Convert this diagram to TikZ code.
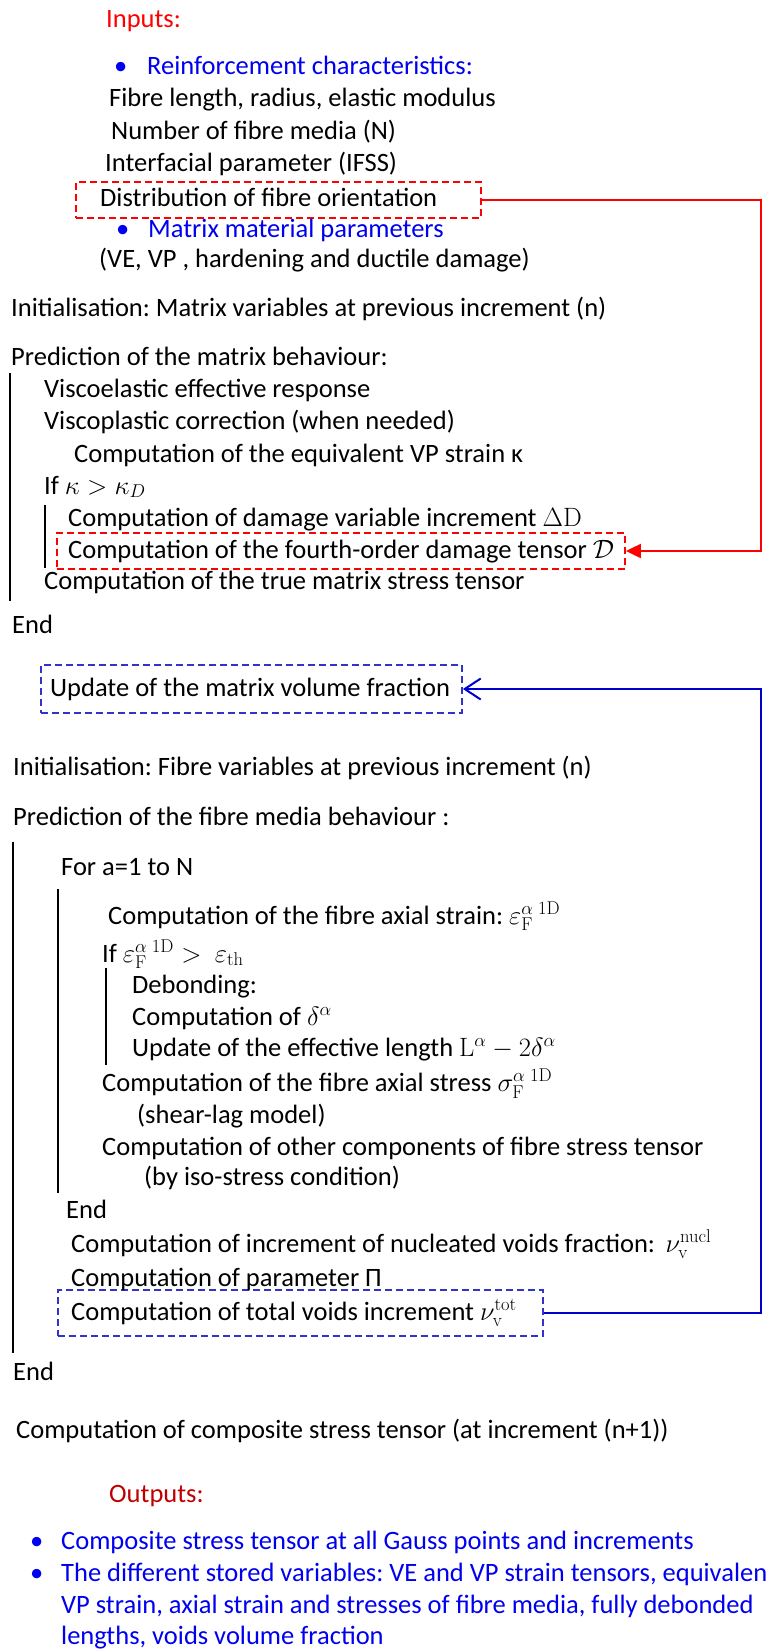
\RequirePackage{fix-cm}
\documentclass[tikz,border=0pt]{standalone}
\usepackage[no-math]{fontspec}
\setmainfont{Carlito}
\frenchspacing
\usetikzlibrary{arrows.meta}
\definecolor{inred}{RGB}{255,0,0}
\definecolor{outred}{RGB}{192,0,0}
\definecolor{txtblue}{RGB}{0,0,240}
\definecolor{boxblue}{RGB}{51,51,204}
\definecolor{lineblue}{RGB}{0,0,204}
\newcommand{\msize}{\fontsize{26.5}{32}\selectfont}
\begin{document}
\begin{tikzpicture}[x=1pt,y=-1pt,
  txt/.style={anchor=base west, inner sep=0pt, font=\msize\frenchspacing},
  bluetxt/.style={txt, text=txtblue},
  redbox/.style={draw=inred, dash pattern=on 7pt off 4pt, line width=1.8pt, inner sep=0pt},
  bluebox/.style={draw=boxblue, dash pattern=on 7pt off 4pt, line width=1.8pt, inner sep=0pt},
  bar/.style={line width=2.2pt, black},
  redcon/.style={draw=inred, line width=2pt, -{Triangle[length=15pt,width=14pt]}},
  bluecon/.style={draw=lineblue, line width=2pt, -{Straight Barb[length=16pt,width=21pt,line width=2pt]}}
]
\useasboundingbox (0,0) rectangle (772,1650);
\fill[white] (0,0) rectangle (772,1650);

% dashed boxes
\node[redbox, minimum width=405pt, minimum height=36pt] (rb1) at (278.5,200) {};
\node[redbox, minimum width=568pt, minimum height=36pt] (rb2) at (341,551) {};
\node[bluebox, minimum width=421pt, minimum height=48pt] (bb1) at (251.5,689) {};
\node[bluebox, minimum width=485pt, minimum height=46pt] (bb2) at (300.5,1313) {};

% inputs
\node[txt, text=inred] (inp) at (106,27) {Inputs:};
\node[bluetxt] (bu1) at (114,74) {•};
\node[bluetxt] (rein) at (147,74) {Reinforcement characteristics:};
\node[txt] (fl) at (109,106) {Fibre length, radius, elastic modulus};
\node[txt] (nf) at (111,139) {Number of fibre media (N)};
\node[txt] (ifp) at (105,171) {Interfacial parameter (IFSS)};
\node[txt] (dist) at (100,206.5) {Distribution of fibre orientation};
\node[bluetxt] (bu2) at (116,237.5) {•};
\node[bluetxt] (mat) at (148,237.5) {Matrix material parameters};
\node[txt] (ve) at (99,267.5) {(VE, VP , hardening and ductile damage)};

% matrix
\node[txt] (initm) at (11,316.7) {Initialisation: Matrix variables at previous increment (n)};
\node[txt] (predm) at (11,365) {Prediction of the matrix behaviour:};
\node[txt] (visce) at (44,397) {Viscoelastic effective response};
\node[txt] (viscp) at (44,429) {Viscoplastic correction (when needed)};
\node[txt] (eqvp) at (74,462) {Computation of the equivalent VP strain κ};
\node[txt] (ifk) at (44,494) {If $\kappa > \kappa_D$};
\node[txt] (dd) at (68,526) {Computation of damage variable increment $\Delta\mathrm{D}$};
\node[txt] (dt) at (68,558) {Computation of the fourth-order damage tensor $\mathcal{D}$};
\node[txt] (tms) at (44,589.3) {Computation of the true matrix stress tensor};
\node[txt] (end1) at (12,633.3) {End};
\coordinate (m1t) at (10,373);
\coordinate (m1b) at (10,601);
\coordinate (m2t) at (45,505);
\coordinate (m2b) at (45,568);
\draw[bar] (m1t) -- (m1b);
\draw[bar] (m2t) -- (m2b);

% fibre
\node[txt] (upd) at (50,696.7) {Update of the matrix volume fraction};
\node[txt] (initf) at (13,775.8) {Initialisation: Fibre variables at previous increment (n)};
\node[txt] (predf) at (13,825.9) {Prediction of the fibre media behaviour :};
\node[txt] (fora) at (61,875) {For a=1 to N};
\node[txt] (axs) at (108,924) {Computation of the fibre axial strain: $\varepsilon_{\mathrm{F}}^{\alpha\;1\mathrm{D}}$};
\node[txt] (ife) at (102,962) {If $\varepsilon_{\mathrm{F}}^{\alpha\;1\mathrm{D}} >\ \varepsilon_{\mathrm{th}}$};
\node[txt] (deb) at (132,993.3) {Debonding:};
\node[txt] (cdel) at (132,1025.3) {Computation of $\delta^{\alpha}$};
\node[txt] (uel) at (132,1056.4) {Update of the effective length $\mathrm{L}^{\alpha}-2\delta^{\alpha}$};
\node[txt] (axst) at (102,1091.5) {Computation of the fibre axial stress $\sigma_{\mathrm{F}}^{\alpha\;1\mathrm{D}}$};
\node[txt] (shl) at (137,1123.6) {(shear-lag model)};
\node[txt] (oth) at (102,1155.6) {Computation of other components of fibre stress tensor};
\node[txt] (iso) at (144,1185.7) {(by iso-stress condition)};
\node[txt] (end2) at (66,1218.8) {End};
\node[txt] (nucl) at (71,1252) {Computation of increment of nucleated voids fraction:\, $\nu_{\mathrm{v}}^{\mathrm{nucl}}$};
\node[txt] (pip) at (71,1286) {Computation of parameter Π};
\node[txt] (tot) at (71,1320) {Computation of total voids increment $\nu_{\mathrm{v}}^{\mathrm{tot}}$};
\node[txt] (end3) at (13,1380.7) {End};
\coordinate (f1t) at (13,842);
\coordinate (f1b) at (13,1353);
\coordinate (f2t) at (58,889);
\coordinate (f2b) at (58,1193);
\coordinate (f3t) at (106,968);
\coordinate (f3b) at (106,1065);
\draw[bar] (f1t) -- (f1b);
\draw[bar] (f2t) -- (f2b);
\draw[bar] (f3t) -- (f3b);

% composite / outputs
\node[txt] (comp) at (16,1438.3) {Computation of composite stress tensor (at increment (n+1))};
\node[txt, text=outred] (outp) at (109,1502) {Outputs:};
\node[bluetxt] (bu3) at (30,1549.5) {•};
\node[bluetxt] (o1) at (61,1549.5) {Composite stress tensor at all Gauss points and increments};
\node[bluetxt] (bu4) at (30,1581.5) {•};
\node[bluetxt] (o2) at (61,1581.5) {The different stored variables: VE and VP strain tensors, equivalen};
\node[bluetxt] (o3) at (61,1613) {VP strain, axial strain and stresses of fibre media, fully debonded};
\node[bluetxt] (o4) at (61,1644.5) {lengths, voids volume fraction};

% connectors
\coordinate (rc1) at (761,200);
\coordinate (rc2) at (761,551);
\draw[redcon] (rb1.east) -- (rc1) -- (rc2) -- (rb2.east);
\coordinate (bc1) at (761,1313);
\coordinate (bc2) at (761,689);
\draw[bluecon] (bb2.east) -- (bc1) -- (bc2) -- (bb1.east);
\end{tikzpicture}
\end{document}
